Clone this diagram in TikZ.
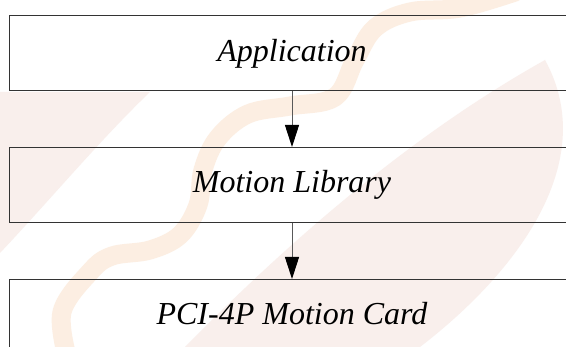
\documentclass[tikz,border=0pt]{standalone}
\usepackage{fontspec}
\setmainfont{Liberation Serif}
\usetikzlibrary{arrows.meta}
\definecolor{wmband}{RGB}{252,238,226}
\definecolor{wmleaf}{RGB}{249,239,236}
\begin{document}
\begin{tikzpicture}[x=1pt,y=-1pt,
  layer/.style={draw=black!80, line width=1.2pt, minimum width=600pt, minimum height=75pt, inner sep=0pt, anchor=north west},
  lbl/.style={font=\fontsize{32}{36}\selectfont\itshape, anchor=base, inner sep=0pt},
  flow/.style={draw=black!65, line width=1pt, -{Triangle[length=22pt,width=14pt,color=black,fill=black]}}]
\clip (0,0) rectangle (566,347);
\fill[white] (0,0) rectangle (566,347);
% watermark
\fill[wmleaf] (0,92) -- (150,92) .. controls (100,140) and (50,200) .. (0,253) -- cycle;
\fill[wmleaf] (545,60) .. controls (600,160) and (520,270) .. (420,347) -- (185,347) .. controls (300,230) and (420,130) .. (545,60) -- cycle;
\draw[wmband, line width=19pt, line cap=round, line join=round] plot[smooth, tension=0.6] coordinates {(68,360) (62,312) (90,272) (112,256) (150,250) (180,235) (198,205) (203,170) (218,138) (248,114) (290,106) (335,97) (355,60) (375,28) (410,12) (460,8) (515,-8)};
% diagram
\node[layer] (app) at (9,15) {};
\node[layer] (lib) at (9,147) {};
\node[layer] (card) at (9,279) {};
\node[lbl] (tapp) at (292,62) {Application};
\node[lbl] (tlib) at (292,193) {Motion Library};
\node[lbl] (tcard) at (292,325) {PCI-4P Motion Card};
\draw[flow] (tapp |- app.south) -- (tapp |- lib.north);
\draw[flow] (tlib |- lib.south) -- (tlib |- card.north);
\end{tikzpicture}
\end{document}
